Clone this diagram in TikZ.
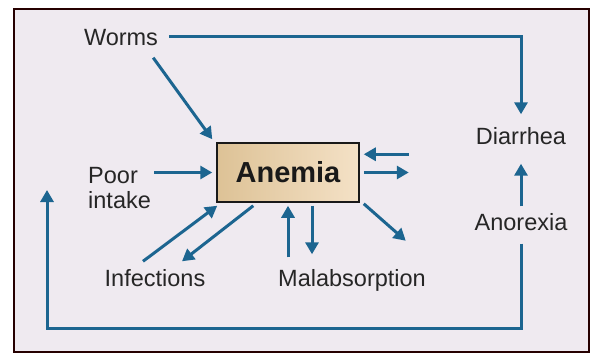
\documentclass[tikz,border=0pt]{standalone}
\usepackage{fontspec}
\setmainfont{Liberation Sans}
\usetikzlibrary{arrows.meta}
\definecolor{arrowblue}{HTML}{1C6590}
\definecolor{framebg}{HTML}{EFEAF0}
\definecolor{boxdark}{HTML}{DDC296}
\definecolor{boxlight}{HTML}{F4E1C6}
\tikzset{
  lbl/.style={font=\fontsize{23.5}{25}\selectfont, text=black!85, inner sep=0pt, text height=17pt, text depth=0pt},
  arr/.style={draw=arrowblue, line width=3pt, -{Triangle[width=13pt,length=12pt]}}
}
\begin{document}
\begin{tikzpicture}[x=1pt, y=1pt]
		\useasboundingbox (0,0) rectangle (594,354);
		% Frame
		\draw[line width=2pt, draw=black!85!red, fill=framebg] (14,2) rectangle (589,345);
		
		% Boxes and labels
		\node[draw=black!90, line width=1.5pt, left color=boxdark, right color=boxlight,
		      minimum width=142pt, minimum height=59pt, inner sep=0pt,
		      font=\fontsize{29}{32}\bfseries\selectfont, text=black!90] (anemia) at (288,181.5) {Anemia};
		\node[lbl] (worms) at (121,317) {Worms};
		\node[lbl, text height=, text depth=, align=left, anchor=west] (poor) at (88,165.5) {Poor\\intake};
		\node[lbl] (infections) at (155,76) {Infections};
		\node[lbl] (malab) at (352,76) {Malabsorption};
		\node[lbl] (diarrhea) at (521,218) {Diarrhea};
		\node[lbl] (anorexia) at (521,132) {Anorexia};
		\coordinate (loopend) at (47,164);
		
		% Arrows into and out of Anemia
		\draw[arr] ([shift={(-5pt,-12pt)}]worms.south east) -- ([shift={(-4pt,3pt)}]anemia.north west);
		\draw[arr, shorten <=3pt, shorten >=4pt] (poor.east |- anemia.west) -- (anemia.west);
		\draw[arr] ([shift={(-12pt,8pt)}]infections.north) -- ([shift={(1pt,-3pt)}]anemia.south west);
		\draw[arr] ([shift={(37pt,-3pt)}]anemia.south west) -- ([shift={(27pt,8pt)}]infections.north);
		\draw[arr, shorten <=12pt, shorten >=3pt] (anemia.south |- malab.north) -- (anemia.south);
		\draw[arr, shorten <=3pt, shorten >=15pt] ([xshift=24pt]anemia.south) -- ([xshift=24pt]anemia.south |- malab.north);
		\draw[arr] ([shift={(49pt,-12pt)}]anemia.north east) -- ([shift={(4pt,-12pt)}]anemia.north east);
		\draw[arr, shorten <=4pt] (anemia.east) -- ([xshift=49pt]anemia.east);
		\draw[arr] ([shift={(4pt,-1pt)}]anemia.south east) -- ([shift={(46pt,-38pt)}]anemia.south east);
		
		% Outer loop
		\draw[arr, shorten <=11pt, shorten >=13pt] (worms.east) -| (diarrhea.north);
		\draw[arr, shorten <=7pt, shorten >=19pt] (anorexia.north) -- (diarrhea.south);
		\draw[arr, shorten <=13pt] (anorexia.south) -- ++(0,-98) -| (loopend);
	\end{tikzpicture}
\end{document}
